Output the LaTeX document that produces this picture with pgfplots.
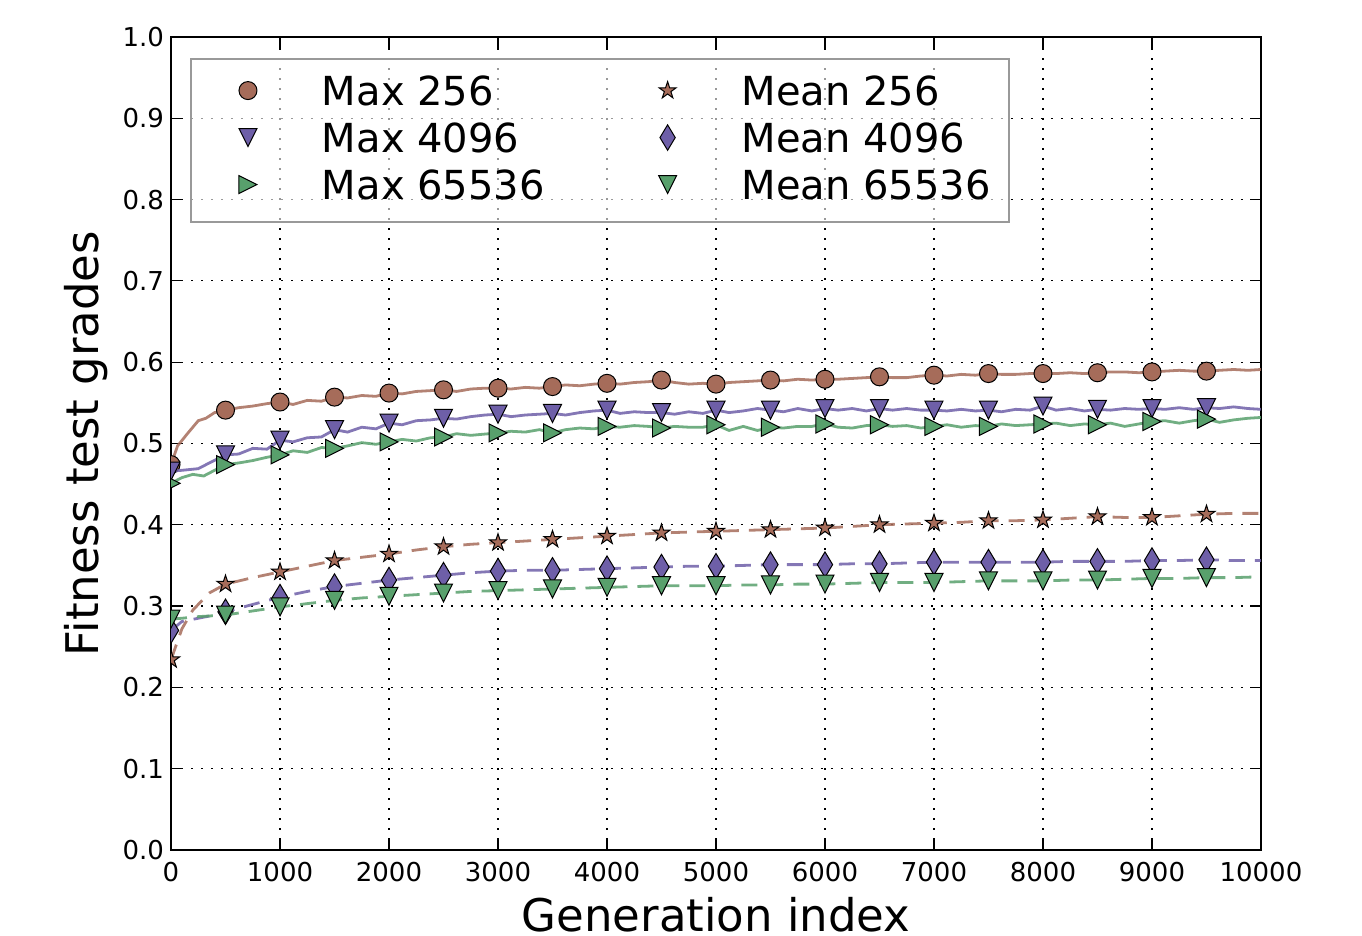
\documentclass[border=0pt]{standalone}
\usepackage{pgfplots}
\pgfplotsset{compat=1.18}
\usepackage{fontspec}
\setmainfont{DejaVu Sans}

\definecolor{cbrown}{RGB}{166,108,90}
\definecolor{cpurple}{RGB}{110,95,168}
\definecolor{cgreen}{RGB}{88,160,108}
\definecolor{legframe}{RGB}{153,153,153}

% matplotlib-like markers
\pgfdeclareplotmark{mtridown}{%
  \pgfpathmoveto{\pgfqpoint{0pt}{-\pgfplotmarksize}}%
  \pgfpathlineto{\pgfqpoint{-\pgfplotmarksize}{\pgfplotmarksize}}%
  \pgfpathlineto{\pgfqpoint{\pgfplotmarksize}{\pgfplotmarksize}}%
  \pgfpathclose\pgfusepathqfillstroke}
\pgfdeclareplotmark{mtriright}{%
  \pgfpathmoveto{\pgfqpoint{\pgfplotmarksize}{0pt}}%
  \pgfpathlineto{\pgfqpoint{-\pgfplotmarksize}{\pgfplotmarksize}}%
  \pgfpathlineto{\pgfqpoint{-\pgfplotmarksize}{-\pgfplotmarksize}}%
  \pgfpathclose\pgfusepathqfillstroke}
\pgfdeclareplotmark{mthindiam}{%
  \pgfpathmoveto{\pgfqpoint{0pt}{1.414\pgfplotmarksize}}%
  \pgfpathlineto{\pgfqpoint{0.849\pgfplotmarksize}{0pt}}%
  \pgfpathlineto{\pgfqpoint{0pt}{-1.414\pgfplotmarksize}}%
  \pgfpathlineto{\pgfqpoint{-0.849\pgfplotmarksize}{0pt}}%
  \pgfpathclose\pgfusepathqfillstroke}
\pgfdeclareplotmark{mstar}{%
  \pgfpathmoveto{\pgfqpointpolar{90}{\pgfplotmarksize}}%
  \pgfpathlineto{\pgfqpointpolar{126}{0.382\pgfplotmarksize}}%
  \pgfpathlineto{\pgfqpointpolar{162}{\pgfplotmarksize}}%
  \pgfpathlineto{\pgfqpointpolar{198}{0.382\pgfplotmarksize}}%
  \pgfpathlineto{\pgfqpointpolar{234}{\pgfplotmarksize}}%
  \pgfpathlineto{\pgfqpointpolar{270}{0.382\pgfplotmarksize}}%
  \pgfpathlineto{\pgfqpointpolar{306}{\pgfplotmarksize}}%
  \pgfpathlineto{\pgfqpointpolar{342}{0.382\pgfplotmarksize}}%
  \pgfpathlineto{\pgfqpointpolar{18}{\pgfplotmarksize}}%
  \pgfpathlineto{\pgfqpointpolar{54}{0.382\pgfplotmarksize}}%
  \pgfpathclose\pgfusepathqfillstroke}

\pgfplotsset{
  mk/.style={only marks, mark size=4.5pt,
    mark options={solid, fill=#1, draw=black, line width=0.5pt}},
  ln/.style={no marks, line width=1.4pt, draw=#1, draw opacity=0.85},
}

\begin{document}
\begin{tikzpicture}
\begin{axis}[
    scale only axis,
    width=545pt, height=406.5pt,
    xmin=0, xmax=10000, ymin=0, ymax=1,
    xtick={0,1000,...,10000},
    ytick={0,0.1,...,1.0},
    scaled x ticks=false,
    clip marker paths=true,
    tick pos=both, tick align=inside,
    major tick length=5.5pt,
    tick style={black, line width=0.6pt},
    axis line style={line width=1.2pt},
    grid=major,
    major grid style={black, line width=0.6pt, dash pattern=on 1pt off 4pt},
    /pgf/number format/assume math mode=true,
    tick label style={font=\fontsize{13}{15}\selectfont},
    xticklabel style={/pgf/number format/1000 sep={}, yshift=-2.5pt},
    yticklabel style={/pgf/number format/.cd, fixed, fixed zerofill, precision=1},
    xlabel={Generation index},
    ylabel={Fitness test grades},
    every axis x label/.style={at={(rel axis cs:0.5,-0.1009)}, anchor=base,
      inner sep=0pt, font=\fontsize{22.5}{26}\selectfont},
    every axis y label/.style={at={(rel axis cs:-0.0578,0.5)}, anchor=south,
      rotate=90, inner sep=0pt, font=\fontsize{22.5}{26}\selectfont},
    legend cell align=left,
    legend image code/.code={%
      \path[draw=none, fill=none] (-19.5pt,-10pt) rectangle (11pt,6pt);
      \draw[#1, fill opacity=1, draw opacity=1] plot coordinates {(0pt,0pt)};},
    legend style={
      at={(rel axis cs:0.0174,0.9742)}, anchor=north west,
      draw=legframe, line width=1pt,
      fill=white, fill opacity=0.6, text opacity=1, draw opacity=1,
      inner xsep=9pt, inner ysep=8.5pt,
      font=\fontsize{20}{24}\selectfont,
      nodes={inner xsep=0pt, inner ysep=0pt, text height=14.6pt, text depth=0pt},
      row sep=6.2pt,
      /tikz/every odd column/.append style={column sep=26pt},
      /tikz/every even column/.append style={column sep=42pt},
    },
    legend columns=2,
]

% Max 256
\addplot[ln=cbrown, forget plot] coordinates {
(0,0.474)(60,0.497)(150,0.512)(250,0.528)(320,0.531)(400,0.538)(500,0.541)(620,0.544)(750,0.546)(880,0.549)(1000,0.551)(1120,0.548)(1250,0.553)(1380,0.552)(1500,0.557)(1620,0.556)(1750,0.559)(1880,0.558)(2000,0.562)(2120,0.561)(2250,0.564)(2380,0.565)(2500,0.566)(2620,0.564)(2750,0.567)(2880,0.568)(3000,0.568)(3120,0.567)(3250,0.569)(3380,0.568)(3500,0.570)(3620,0.572)(3750,0.571)(3880,0.573)(4000,0.574)(4120,0.573)(4250,0.575)(4380,0.576)(4500,0.578)(4620,0.575)(4750,0.573)(4880,0.574)(5000,0.573)(5120,0.575)(5250,0.576)(5380,0.577)(5500,0.578)(5620,0.577)(5750,0.579)(5880,0.578)(6000,0.579)(6120,0.579)(6250,0.580)(6380,0.581)(6500,0.582)(6620,0.581)(6750,0.581)(6880,0.583)(7000,0.584)(7120,0.583)(7250,0.585)(7380,0.584)(7500,0.586)(7620,0.585)(7750,0.585)(7880,0.586)(8000,0.586)(8120,0.586)(8250,0.587)(8380,0.586)(8500,0.587)(8620,0.588)(8750,0.588)(8880,0.587)(9000,0.588)(9120,0.589)(9250,0.590)(9380,0.589)(9500,0.589)(9620,0.590)(9750,0.591)(9880,0.590)(10000,0.591)};
\addplot[mk=cbrown, mark=*, forget plot] coordinates {
(0,0.474)(500,0.541)(1000,0.551)(1500,0.557)(2000,0.562)(2500,0.566)(3000,0.568)(3500,0.570)(4000,0.574)(4500,0.578)(5000,0.573)(5500,0.578)(6000,0.579)(6500,0.582)(7000,0.584)(7500,0.586)(8000,0.586)(8500,0.587)(9000,0.588)(9500,0.589)};

% Max 4096
\addplot[ln=cpurple, forget plot] coordinates {
(0,0.466)(100,0.467)(250,0.469)(380,0.478)(500,0.486)(620,0.487)(750,0.494)(880,0.493)(1000,0.504)(1120,0.502)(1250,0.507)(1380,0.508)(1500,0.517)(1620,0.514)(1750,0.520)(1880,0.518)(2000,0.525)(2120,0.523)(2250,0.528)(2380,0.529)(2500,0.531)(2620,0.530)(2750,0.533)(2880,0.535)(3000,0.536)(3120,0.533)(3250,0.535)(3380,0.536)(3500,0.537)(3620,0.535)(3750,0.538)(3880,0.540)(4000,0.541)(4120,0.537)(4250,0.539)(4380,0.538)(4500,0.538)(4620,0.536)(4750,0.539)(4880,0.537)(5000,0.541)(5120,0.538)(5250,0.540)(5380,0.543)(5500,0.541)(5620,0.539)(5750,0.543)(5880,0.540)(6000,0.543)(6120,0.541)(6250,0.543)(6380,0.540)(6500,0.543)(6620,0.541)(6750,0.543)(6880,0.541)(7000,0.541)(7120,0.540)(7250,0.542)(7380,0.540)(7500,0.541)(7620,0.539)(7750,0.542)(7880,0.541)(8000,0.546)(8120,0.541)(8250,0.543)(8380,0.540)(8500,0.542)(8620,0.541)(8750,0.543)(8880,0.542)(9000,0.543)(9120,0.542)(9250,0.544)(9380,0.542)(9500,0.544)(9620,0.543)(9750,0.545)(9880,0.543)(10000,0.542)};
\addplot[mk=cpurple, mark=mtridown, forget plot] coordinates {
(0,0.466)(500,0.486)(1000,0.504)(1500,0.517)(2000,0.525)(2500,0.531)(3000,0.536)(3500,0.537)(4000,0.541)(4500,0.538)(5000,0.541)(5500,0.541)(6000,0.543)(6500,0.543)(7000,0.541)(7500,0.541)(8000,0.546)(8500,0.542)(9000,0.543)(9500,0.544)};

% Max 65536
\addplot[ln=cgreen, forget plot] coordinates {
(0,0.451)(100,0.458)(200,0.462)(300,0.460)(400,0.467)(500,0.474)(620,0.476)(750,0.479)(880,0.483)(1000,0.486)(1120,0.491)(1250,0.489)(1380,0.495)(1500,0.494)(1620,0.497)(1750,0.501)(1880,0.499)(2000,0.502)(2120,0.505)(2250,0.503)(2380,0.507)(2500,0.508)(2620,0.512)(2750,0.510)(3000,0.513)(3120,0.515)(3250,0.514)(3380,0.517)(3500,0.513)(3620,0.517)(3750,0.519)(3880,0.518)(4000,0.521)(4120,0.520)(4250,0.522)(4380,0.521)(4500,0.519)(4620,0.521)(4750,0.520)(4880,0.520)(5000,0.523)(5120,0.516)(5250,0.521)(5380,0.516)(5500,0.520)(5620,0.519)(5750,0.521)(5880,0.521)(6000,0.524)(6120,0.520)(6250,0.519)(6380,0.522)(6500,0.523)(6620,0.521)(6750,0.522)(6880,0.519)(7000,0.521)(7120,0.523)(7250,0.520)(7380,0.522)(7500,0.521)(7620,0.524)(7750,0.522)(7880,0.523)(8000,0.524)(8120,0.525)(8250,0.522)(8380,0.524)(8500,0.523)(8620,0.525)(8750,0.521)(8880,0.524)(9000,0.527)(9120,0.528)(9250,0.525)(9380,0.528)(9500,0.530)(9620,0.526)(9750,0.529)(9880,0.531)(10000,0.532)};
\addplot[mk=cgreen, mark=mtriright, forget plot] coordinates {
(0,0.451)(500,0.474)(1000,0.486)(1500,0.494)(2000,0.502)(2500,0.508)(3000,0.513)(3500,0.513)(4000,0.521)(4500,0.519)(5000,0.523)(5500,0.520)(6000,0.524)(6500,0.523)(7000,0.521)(7500,0.521)(8000,0.524)(8500,0.523)(9000,0.527)(9500,0.530)};

% Mean 256
\addplot[ln=cbrown, dash pattern=on 8pt off 5pt, forget plot] coordinates {
(0,0.234)(100,0.272)(200,0.295)(350,0.316)(500,0.327)(750,0.335)(1000,0.342)(1250,0.349)(1500,0.356)(1750,0.360)(2000,0.364)(2250,0.369)(2500,0.373)(2750,0.376)(3000,0.378)(3250,0.380)(3500,0.382)(3750,0.384)(4000,0.386)(4250,0.388)(4500,0.390)(4750,0.391)(5000,0.392)(5250,0.393)(5500,0.394)(5750,0.395)(6000,0.396)(6250,0.398)(6500,0.400)(6750,0.401)(7000,0.402)(7250,0.403)(7500,0.405)(7750,0.405)(8000,0.406)(8250,0.408)(8500,0.410)(8750,0.409)(9000,0.409)(9250,0.411)(9500,0.413)(9750,0.414)(10000,0.414)};
\addplot[mk=cbrown, mark=mstar, forget plot] coordinates {
(0,0.234)(500,0.327)(1000,0.342)(1500,0.356)(2000,0.364)(2500,0.373)(3000,0.378)(3500,0.382)(4000,0.386)(4500,0.390)(5000,0.392)(5500,0.394)(6000,0.396)(6500,0.400)(7000,0.402)(7500,0.405)(8000,0.406)(8500,0.410)(9000,0.409)(9500,0.413)};

% Mean 4096
\addplot[ln=cpurple, dash pattern=on 8pt off 5pt, forget plot] coordinates {
(0,0.270)(100,0.281)(250,0.285)(400,0.289)(500,0.293)(750,0.302)(1000,0.311)(1250,0.318)(1500,0.324)(1750,0.328)(2000,0.332)(2250,0.335)(2500,0.338)(2750,0.341)(3000,0.343)(3250,0.344)(3500,0.344)(3750,0.345)(4000,0.346)(4250,0.347)(4500,0.348)(4750,0.349)(5000,0.349)(5250,0.350)(5500,0.351)(5750,0.351)(6000,0.351)(6250,0.352)(6500,0.352)(6750,0.353)(7000,0.354)(7250,0.354)(7500,0.354)(7750,0.354)(8000,0.354)(8250,0.355)(8500,0.355)(8750,0.355)(9000,0.356)(9250,0.356)(9500,0.357)(9750,0.356)(10000,0.356)};
\addplot[mk=cpurple, mark=mthindiam, forget plot] coordinates {
(0,0.270)(500,0.293)(1000,0.311)(1500,0.324)(2000,0.332)(2500,0.338)(3000,0.343)(3500,0.344)(4000,0.346)(4500,0.348)(5000,0.349)(5500,0.351)(6000,0.351)(6500,0.352)(7000,0.354)(7500,0.354)(8000,0.354)(8500,0.355)(9000,0.356)(9500,0.357)};

% Mean 65536
\addplot[ln=cgreen, dash pattern=on 8pt off 5pt, forget plot] coordinates {
(0,0.284)(100,0.285)(250,0.287)(500,0.289)(750,0.294)(1000,0.299)(1250,0.303)(1500,0.307)(1750,0.310)(2000,0.312)(2250,0.314)(2500,0.316)(2750,0.318)(3000,0.319)(3250,0.320)(3500,0.321)(3750,0.322)(4000,0.323)(4250,0.324)(4500,0.325)(4750,0.325)(5000,0.325)(5250,0.326)(5500,0.326)(5750,0.327)(6000,0.327)(6250,0.328)(6500,0.329)(6750,0.329)(7000,0.329)(7250,0.330)(7500,0.331)(7750,0.331)(8000,0.331)(8250,0.332)(8500,0.332)(8750,0.333)(9000,0.334)(9250,0.334)(9500,0.335)(9750,0.335)(10000,0.336)};
\addplot[mk=cgreen, mark=mtridown, forget plot] coordinates {
(0,0.284)(500,0.289)(1000,0.299)(1500,0.307)(2000,0.312)(2500,0.316)(3000,0.319)(3500,0.321)(4000,0.323)(4500,0.325)(5000,0.325)(5500,0.326)(6000,0.327)(6500,0.329)(7000,0.329)(7500,0.331)(8000,0.331)(8500,0.332)(9000,0.334)(9500,0.335)};

% legend, row by row
\addlegendimage{mk=cbrown, mark=*}
\addlegendentry{Max 256}
\addlegendimage{mk=cbrown, mark=mstar}
\addlegendentry{Mean 256}
\addlegendimage{mk=cpurple, mark=mtridown}
\addlegendentry{Max 4096}
\addlegendimage{mk=cpurple, mark=mthindiam}
\addlegendentry{Mean 4096}
\addlegendimage{mk=cgreen, mark=mtriright}
\addlegendentry{Max 65536}
\addlegendimage{mk=cgreen, mark=mtridown}
\addlegendentry{Mean 65536}

\coordinate (bbSW) at (rel axis cs:-0.1569,-0.1058);
\coordinate (bbNE) at (rel axis cs:1.0927,1.0455);
\end{axis}
\path (bbSW) rectangle (bbNE);
\end{tikzpicture}
\end{document}
